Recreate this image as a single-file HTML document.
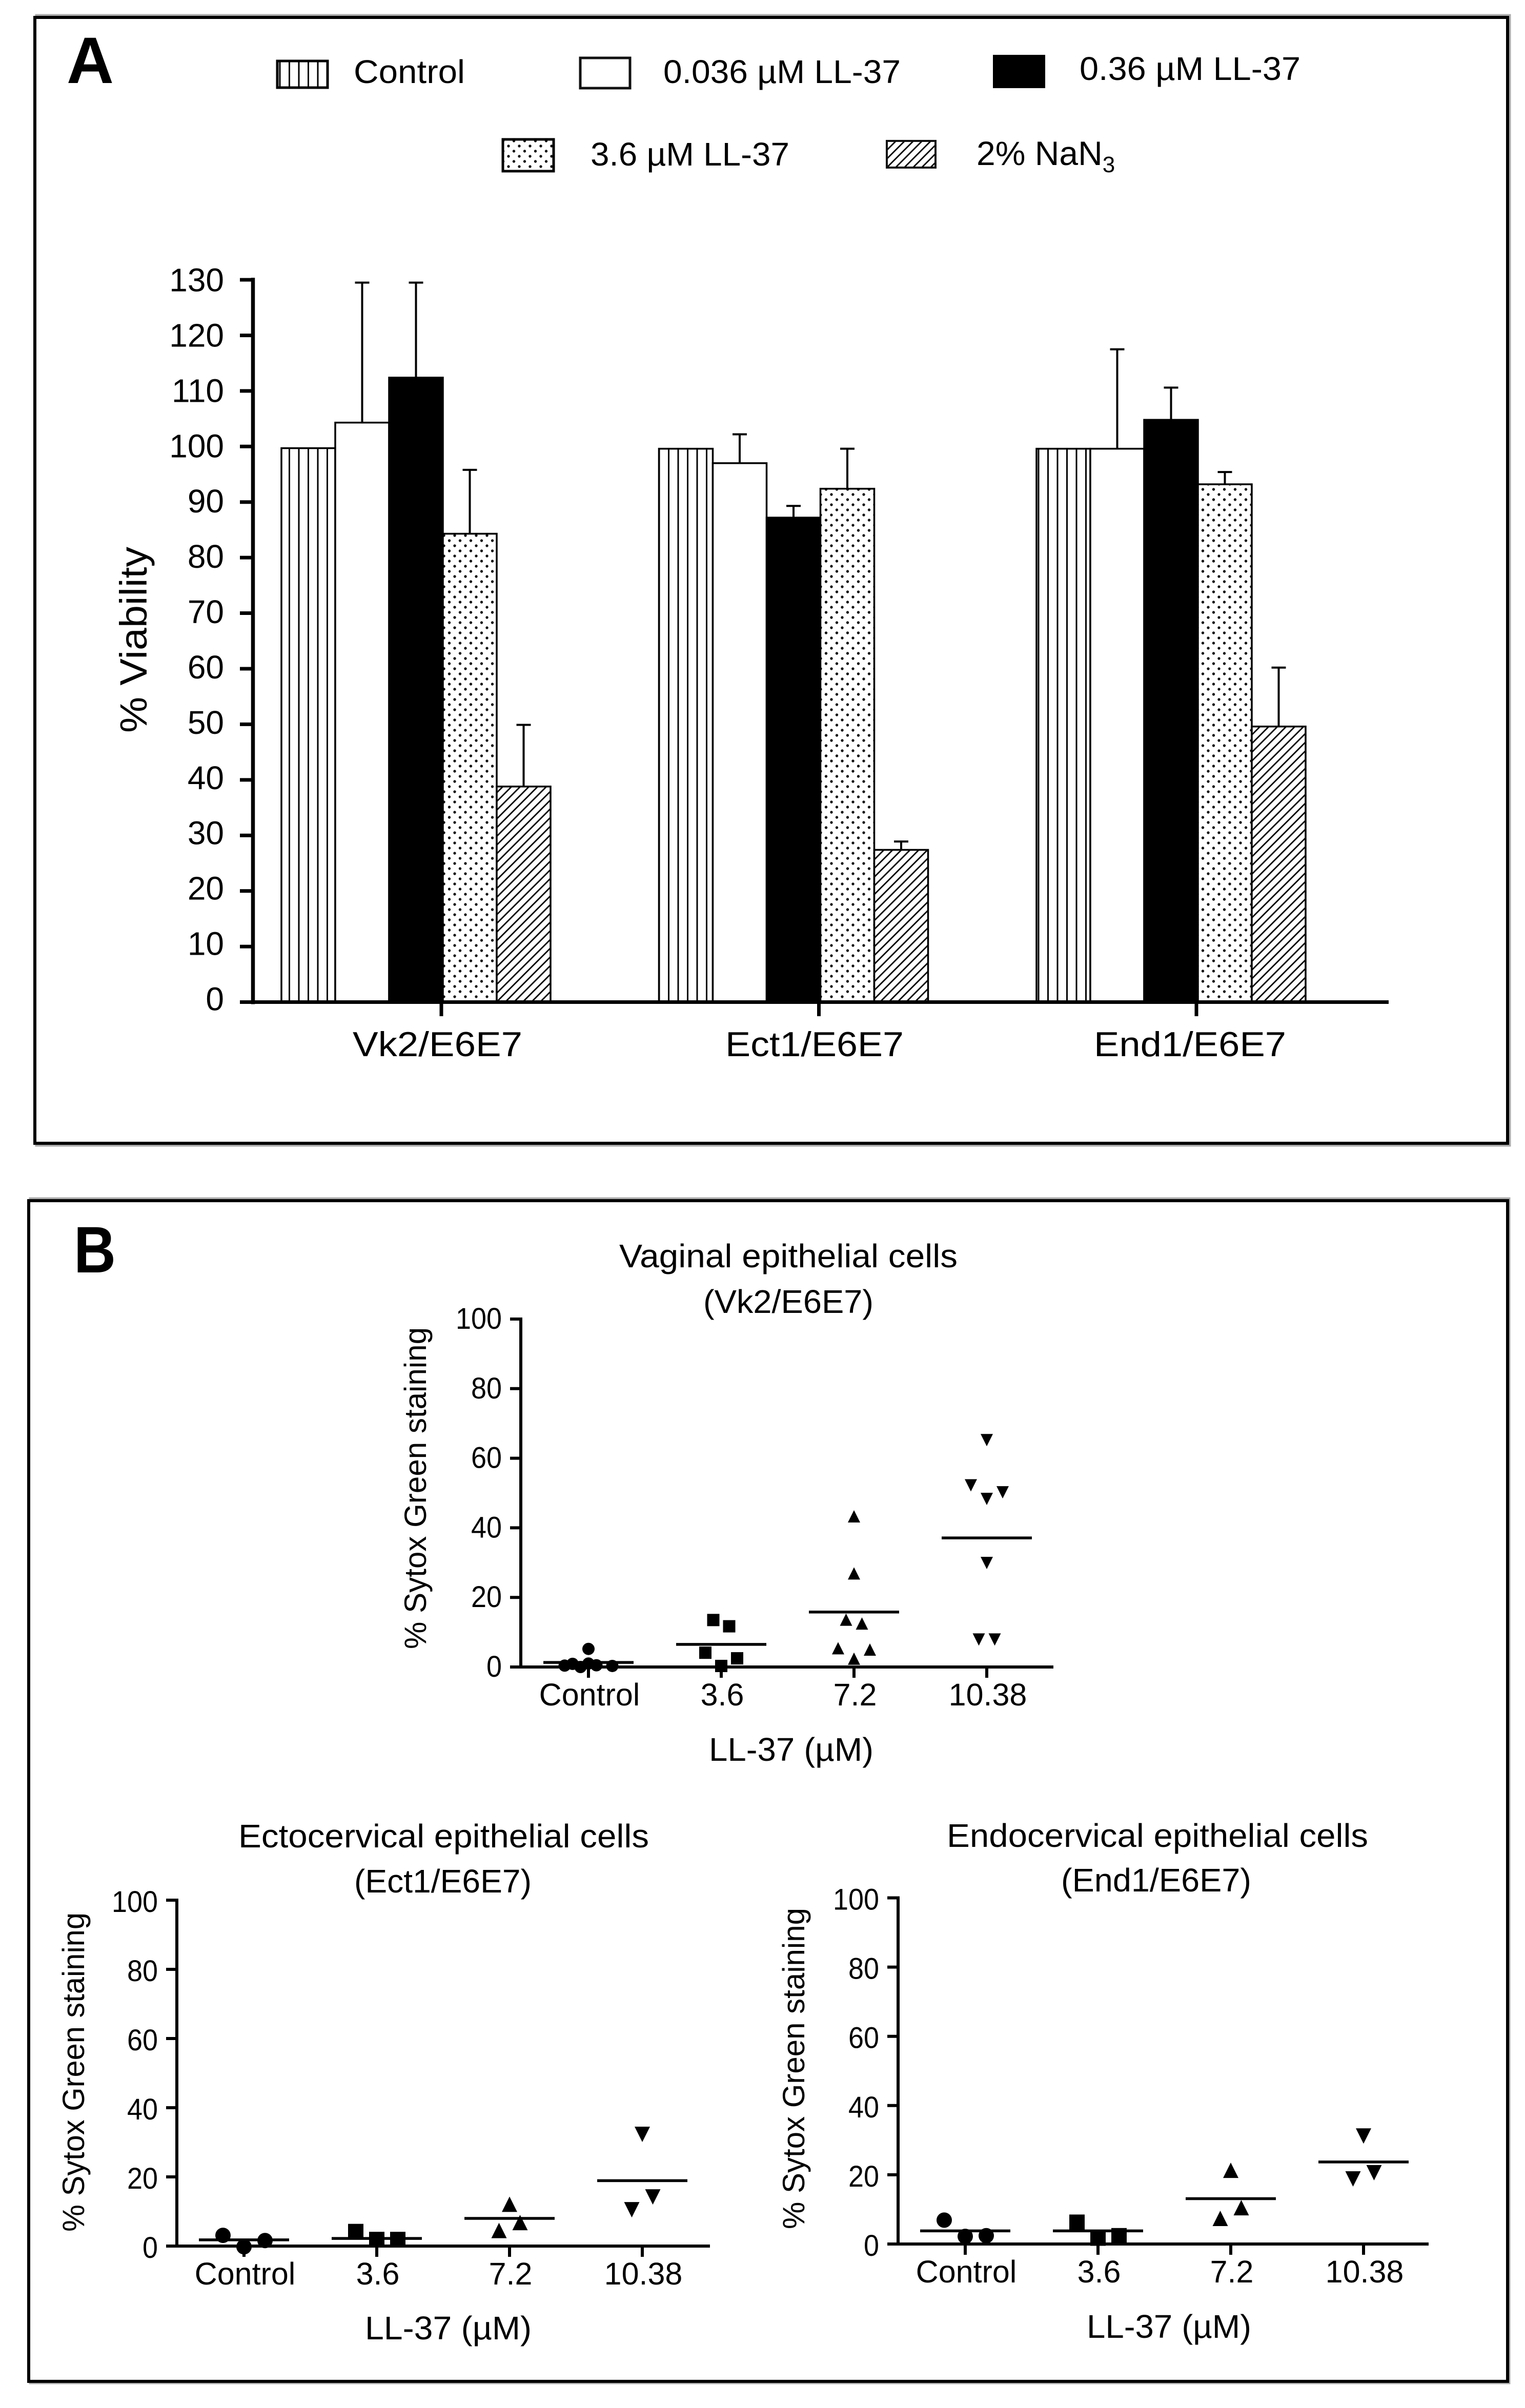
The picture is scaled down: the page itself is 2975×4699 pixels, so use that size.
<!DOCTYPE html>
<html lang="en">
<head>
<meta charset="utf-8">
<title>LL-37 viability and Sytox Green staining</title>
<style>
html,body{margin:0;padding:0;background:#fff;}
svg{display:block;}
text{font-family:"Liberation Sans",sans-serif;fill:#000;}
</style>
</head>
<body>
<svg id="figure" xmlns="http://www.w3.org/2000/svg" width="2975" height="4699" viewBox="0 0 2975 4699">
<defs>
<pattern id="pat-vertical" patternUnits="userSpaceOnUse" width="18.5" height="20">
<rect width="18.5" height="20" fill="#fff"/>
<rect x="8" y="0" width="3" height="20" fill="#000"/>
</pattern>
<pattern id="pat-dots" patternUnits="userSpaceOnUse" width="21" height="20">
<rect width="21" height="20" fill="#fff"/>
<circle cx="5" cy="5" r="2.7" fill="#111"/>
<circle cx="15.5" cy="15" r="2.7" fill="#111"/>
</pattern>
<pattern id="pat-hatch" patternUnits="userSpaceOnUse" width="17" height="17">
<rect width="17" height="17" fill="#fff"/>
<path d="M-4,4 L4,-4 M0,17 L17,0 M13,21 L21,13" stroke="#000" stroke-width="2.8" fill="none"/>
</pattern>
</defs>

<rect x="71" y="30" width="2874" height="2205" fill="none" stroke="#aaa" stroke-width="5"/>
<rect x="68" y="34" width="2873" height="2197" fill="#fff" stroke="#000" stroke-width="6"/>
<rect x="59" y="2339" width="2885" height="2311" fill="none" stroke="#aaa" stroke-width="5"/>
<rect x="56" y="2343" width="2885" height="2304" fill="#fff" stroke="#000" stroke-width="6"/>

<text x="130" y="162" font-size="128" font-weight="bold" textLength="92" lengthAdjust="spacingAndGlyphs">A</text>
<text x="144" y="2483" font-size="128" font-weight="bold" textLength="82" lengthAdjust="spacingAndGlyphs">B</text>

<g>
<g>
<rect x="541" y="119" width="98" height="52" fill="url(#pat-vertical)" stroke="#000" stroke-width="5"/>
<text x="690" y="162" font-size="64" textLength="217" lengthAdjust="spacingAndGlyphs">Control</text>
</g>
<g>
<rect x="1132" y="113" width="97" height="59" fill="#fff" stroke="#111" stroke-width="5"/>
<text x="1294" y="162" font-size="64" textLength="463" lengthAdjust="spacingAndGlyphs">0.036 µM LL-37</text>
</g>
<g>
<rect x="1937" y="107" width="102" height="65" fill="#000"/>
<text x="2106" y="156" font-size="64" textLength="431" lengthAdjust="spacingAndGlyphs">0.36 µM LL-37</text>
</g>
<g>
<rect x="981" y="272" width="99" height="62" fill="url(#pat-dots)" stroke="#000" stroke-width="5"/>
<text x="1152" y="323" font-size="64" textLength="388" lengthAdjust="spacingAndGlyphs">3.6 µM LL-37</text>
</g>
<g>
<rect x="1730" y="275" width="95" height="52" fill="url(#pat-hatch)" stroke="#111" stroke-width="4"/>
<text x="1905" y="322" font-size="66">2% NaN<tspan font-size="44" dy="14">3</tspan></text>
</g>
</g>

<text transform="translate(286,1430) rotate(-90)" font-size="74" textLength="363" lengthAdjust="spacingAndGlyphs">% Viability</text>

<g id="bar-chart"></g>

<text x="1208" y="2473" font-size="64" textLength="660" lengthAdjust="spacingAndGlyphs">Vaginal epithelial cells</text>
<text x="1372" y="2562" font-size="64" textLength="332" lengthAdjust="spacingAndGlyphs">(Vk2/E6E7)</text>
<text transform="translate(831,3218) rotate(-90)" font-size="60" textLength="628" lengthAdjust="spacingAndGlyphs">% Sytox Green staining</text>
<text x="1383" y="3436" font-size="64" textLength="321" lengthAdjust="spacingAndGlyphs">LL-37 (µM)</text>
<g id="chart-vaginal"></g>

<text x="465" y="3605" font-size="64" textLength="801" lengthAdjust="spacingAndGlyphs">Ectocervical epithelial cells</text>
<text x="691" y="3693" font-size="64" textLength="346" lengthAdjust="spacingAndGlyphs">(Ect1/E6E7)</text>
<text transform="translate(164,4355) rotate(-90)" font-size="60" textLength="623" lengthAdjust="spacingAndGlyphs">% Sytox Green staining</text>
<text x="712" y="4565" font-size="64" textLength="325" lengthAdjust="spacingAndGlyphs">LL-37 (µM)</text>
<g id="chart-ecto"></g>

<text x="1847" y="3604" font-size="64" textLength="822" lengthAdjust="spacingAndGlyphs">Endocervical epithelial cells</text>
<text x="2070" y="3691" font-size="64" textLength="371" lengthAdjust="spacingAndGlyphs">(End1/E6E7)</text>
<text transform="translate(1569,4350) rotate(-90)" font-size="60" textLength="627" lengthAdjust="spacingAndGlyphs">% Sytox Green staining</text>
<text x="2120" y="4562" font-size="64" textLength="321" lengthAdjust="spacingAndGlyphs">LL-37 (µM)</text>
<g id="chart-endo"></g>
</svg>

<script>
/* Panel A data */
const cellLines = ['Vk2/E6E7', 'Ect1/E6E7', 'End1/E6E7'];
const treatments = ['control', '0-036-um', '0-36-um', '3-6-um', 'nan3'];
const viabilityTicks = [0, 10, 20, 30, 40, 50, 60, 70, 80, 90, 100, 110, 120, 130];
const controlMeans = [99.7, 99.6, 99.6];
const controlErrors = [0, 0, 0];
const lowDoseMeans = [104.3, 97.0, 99.6];
const lowDoseErrors = [25.2, 5.2, 17.9];
const midDoseMeans = [112.4, 87.2, 104.8];
const midDoseErrors = [17.1, 2.1, 5.8];
const highDoseMeans = [84.3, 92.4, 93.2];
const highDoseErrors = [11.5, 7.2, 2.2];
const azideMeans = [38.8, 27.4, 49.6];
const azideErrors = [11.1, 1.5, 10.6];

/* Panel B shared */
const doseCategories = ['Control', '3.6', '7.2', '10.38'];
const stainingTicks = [0, 20, 40, 60, 80, 100];

/* Vaginal (Vk2/E6E7): values, side-by-side slot of each replicate, group means */
const vaginalControl = [5.2, 0.4, 0.9, 0, 1, 0.5, 0.3];
const vaginalControlSlots = [0, -3, -2, -1, 0, 1, 3];
const vaginal36 = [13.5, 11.7, 4.1, 2.5, 0.3];
const vaginal36Slots = [-1, 1, -2, 2, 0];
const vaginal72 = [43.3, 26.9, 13.6, 12.5, 5.4, 5, 2.4];
const vaginal72Slots = [0, 0, -1, 1, -2, 2, 0];
const vaginal1038 = [65.2, 52.2, 50.2, 48.3, 29.9, 7.9, 7.9];
const vaginal1038Slots = [0, -2, 2, 0, 0, -1, 1];
const vaginalMeans = [1.3, 6.5, 15.8, 37.1];

/* Ectocervical (Ect1/E6E7) */
const ectoControl = [3.1, -0.2, 1.6];
const ectoControlSlots = [-1, 0, 1];
const ecto36 = [4.2, 1.9, 1.9];
const ecto36Slots = [-1, 0, 1];
const ecto72 = [12.1, 4.5, 6.8];
const ecto72Slots = [0, -0.5, 0.5];
const ecto1038 = [32.3, 10.5, 14.2];
const ecto1038Slots = [0, -0.5, 0.5];
const ectoMeans = [1.8, 2.2, 8, 18.9];

/* Endocervical (End1/E6E7) */
const endoControl = [6.9, 2.2, 2.4];
const endoControlSlots = [-1, 0, 1];
const endo36 = [6.3, 1.7, 2.4];
const endo36Slots = [-1, 0, 1];
const endo72 = [21.3, 7.4, 10.5];
const endo72Slots = [0, -0.5, 0.5];
const endo1038 = [31.2, 18.8, 20.6];
const endo1038Slots = [0, -0.5, 0.5];
const endoMeans = [3.8, 3.8, 13.1, 23.7];

const NS = 'http://www.w3.org/2000/svg';
function add(parent, tag, attrs, text) {
  const el = document.createElementNS(NS, tag);
  for (const k in attrs) el.setAttribute(k, attrs[k]);
  if (text !== undefined) el.textContent = text;
  parent.appendChild(el);
  return el;
}

/* ---------- Panel A ---------- */
(function drawBars() {
  const root = document.getElementById('bar-chart');
  const y = v => 1955.5 - v * 10.842;
  const xBar = (g, s) => 549 + 736.5 * g + 105 * s;
  const barWidth = 105;
  const fills = ['url(#pat-vertical)', '#fff', '#000', 'url(#pat-dots)', 'url(#pat-hatch)'];
  const means = [controlMeans, lowDoseMeans, midDoseMeans, highDoseMeans, azideMeans];
  const errors = [controlErrors, lowDoseErrors, midDoseErrors, highDoseErrors, azideErrors];

  cellLines.forEach((line, g) => {
    treatments.forEach((t, s) => {
      const top = y(means[s][g]);
      const left = xBar(g, s);
      const err = errors[s][g];
      if (err > 0) {
        const errTop = y(means[s][g] + err);
        const cx = left + barWidth / 2;
        const stem = add(root, 'line', {x1: cx, x2: cx, y1: top, y2: errTop, stroke: '#000', 'stroke-width': 4});
        
        
        const cap = add(root, 'line', {x1: cx - 14, x2: cx + 14, y1: errTop, y2: errTop, stroke: '#000', 'stroke-width': 4});
        
        
      }
      const bar = add(root, 'rect', {x: left, y: top, width: barWidth, height: y(0) - top, fill: fills[s], stroke: '#000', 'stroke-width': 3.5});
      
      
    });
  });

  const yAxis = add(root, 'line', {x1: 493.5, x2: 493.5, y1: y(130) - 4, y2: y(0) + 4, stroke: '#000', 'stroke-width': 7.5});
  
  
  const xAxis = add(root, 'line', {x1: 468, x2: 2709, y1: y(0), y2: y(0), stroke: '#000', 'stroke-width': 7});
  
  

  viabilityTicks.forEach(v => {
    const tick = add(root, 'line', {x1: 468, x2: 493, y1: y(v), y2: y(v), stroke: '#000', 'stroke-width': 7});
    
    
    const label = add(root, 'text', {x: 437, y: y(v) + 16 + v * 0.05, 'font-size': 64, 'text-anchor': 'end'}, String(v));
    
    
  });

  const labelStart = [688, 1415, 2134];
  const labelLength = [331, 348, 375];
  cellLines.forEach((line, g) => {
    const tx = xBar(g, 3) - 3;
    const tick = add(root, 'line', {x1: tx, x2: tx, y1: y(0), y2: 1983, stroke: '#000', 'stroke-width': 7});
    
    
    const label = add(root, 'text', {x: labelStart[g], y: 2061, 'font-size': 68, textLength: labelLength[g], lengthAdjust: 'spacingAndGlyphs'}, line);
    
    
  });
})();

/* ---------- Panel B ---------- */
function drawScatter(rootId, prefix, groupsData, groupSlots, means, cfg) {
  const root = document.getElementById(rootId);
  const y = v => cfg.y0 - v * cfg.unit;
  const xCat = i => cfg.x0 + i * 259;
  const shapes = ['circle', 'square', 'up', 'down'];

  groupsData.forEach((values, c) => {
    values.forEach((v, i) => {
      const px = xCat(c) + groupSlots[c][i] * cfg.slot;
      const py = y(v);
      const r = cfg.marker / 2;
      let mark;
      if (shapes[c] === 'circle') {
        mark = add(root, 'circle', {cx: px, cy: py, r: r, fill: '#000'});
      } else if (shapes[c] === 'square') {
        mark = add(root, 'rect', {x: px - r, y: py - r, width: 2 * r, height: 2 * r, fill: '#000'});
      } else if (shapes[c] === 'up') {
        mark = add(root, 'path', {d: 'M' + px + ',' + (py - r) + 'L' + (px + r) + ',' + (py + r) + 'L' + (px - r) + ',' + (py + r) + 'Z', fill: '#000'});
      } else {
        mark = add(root, 'path', {d: 'M' + px + ',' + (py + r) + 'L' + (px + r) + ',' + (py - r) + 'L' + (px - r) + ',' + (py - r) + 'Z', fill: '#000'});
      }
      
      
    });
    const meanLine = add(root, 'line', {x1: xCat(c) - 88, x2: xCat(c) + 88, y1: y(means[c]), y2: y(means[c]), stroke: '#000', 'stroke-width': 5.5});
    
    
  });

  const yAxis = add(root, 'line', {x1: cfg.axisX, x2: cfg.axisX, y1: y(100) - 3, y2: y(0) + 3, stroke: '#000', 'stroke-width': 6});
  
  
  const xAxis = add(root, 'line', {x1: cfg.axisX - 21, x2: cfg.xEnd, y1: y(0), y2: y(0), stroke: '#000', 'stroke-width': 6});
  
  

  stainingTicks.forEach(v => {
    const tick = add(root, 'line', {x1: cfg.axisX - 21, x2: cfg.axisX, y1: y(v), y2: y(v), stroke: '#000', 'stroke-width': 6});
    
    
    const text = String(v);
    const label = add(root, 'text', {x: cfg.axisX - 37, y: y(v) + cfg.yLabelDy, 'font-size': 58, 'text-anchor': 'end', textLength: text.length * 30, lengthAdjust: 'spacingAndGlyphs'}, text);
    
    
  });

  doseCategories.forEach((name, c) => {
    const tick = add(root, 'line', {x1: xCat(c), x2: xCat(c), y1: y(0), y2: y(0) + 21, stroke: '#000', 'stroke-width': 6});
    
    
    const label = add(root, 'text', {x: xCat(c) + 2, y: y(0) + 75, 'font-size': 61, 'text-anchor': 'middle'}, name);
    
    
  });
}

drawScatter('chart-vaginal', 'vaginal',
  [vaginalControl, vaginal36, vaginal72, vaginal1038],
  [vaginalControlSlots, vaginal36Slots, vaginal72Slots, vaginal1038Slots],
  vaginalMeans,
  {x0: 1148, y0: 3253, unit: 6.79, slot: 15.5, marker: 24, axisX: 1016, xEnd: 2055, yLabelDy: 19});

drawScatter('chart-ecto', 'ectocervical',
  [ectoControl, ecto36, ecto72, ecto1038],
  [ectoControlSlots, ecto36Slots, ecto72Slots, ecto1038Slots],
  ectoMeans,
  {x0: 476, y0: 4383, unit: 6.75, slot: 41, marker: 30, axisX: 345, xEnd: 1385, yLabelDy: 23});

drawScatter('chart-endo', 'endocervical',
  [endoControl, endo36, endo72, endo1038],
  [endoControlSlots, endo36Slots, endo72Slots, endo1038Slots],
  endoMeans,
  {x0: 1883, y0: 4379, unit: 6.755, slot: 41, marker: 30, axisX: 1752, xEnd: 2787, yLabelDy: 23});
</script>
</body>
</html>
